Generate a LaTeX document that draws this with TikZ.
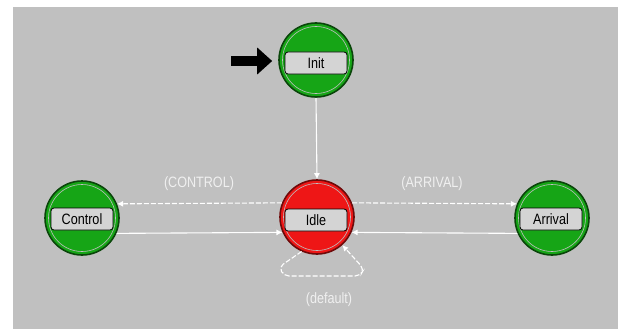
\documentclass[tikz,border=0pt]{standalone}
\usepackage{fontspec}
\setmainfont{Liberation Sans}
\newfontfamily\dlgfont[FakeStretch=0.84]{Liberation Sans}
\usetikzlibrary{arrows.meta}
\definecolor{canvas}{RGB}{192,192,192}
\definecolor{stgreen}{RGB}{22,165,22}
\definecolor{stgreenedge}{RGB}{10,70,10}
\definecolor{stred}{RGB}{238,22,22}
\definecolor{strededge}{RGB}{110,10,10}
\definecolor{tagfill}{RGB}{212,212,212}
\tikzset{
  statecircle/.style={circle, minimum size=74pt, inner sep=0pt, line width=1.6pt,
    path picture={\draw[white!75!black, line width=0.6pt]
      (path picture bounding box.center) circle (33.5pt);}},
  greenstate/.style={statecircle, fill=stgreen, draw=stgreenedge},
  redstate/.style={statecircle, fill=stred, draw=strededge},
  tag/.style={draw=black, line width=0.8pt, fill=tagfill, rounded corners=3pt,
    minimum width=62pt, minimum height=22pt, inner sep=0pt,
    font=\dlgfont\fontsize{15}{16}\selectfont, text=black},
  trans/.style={draw=white, line width=1.1pt, -{Latex[length=6pt,width=6pt]}},
  transdash/.style={trans, dash pattern=on 5pt off 2pt},
  translabel/.style={text=white!94!black, font=\dlgfont\fontsize{15}{16}\selectfont, inner sep=0pt},
  initmark/.style={draw=black, line width=10pt, -{Triangle[length=15pt,width=26pt]}}
}
\begin{document}
\begin{tikzpicture}[x=1pt,y=-1pt]
\useasboundingbox (0,0) rectangle (618,329);
\fill[white] (0,0) rectangle (618,329);
\fill[canvas] (13,7) rectangle (618,329);

% states
\node[greenstate] (init) at (316,60) {};
\node[redstate] (idle) at (317,217) {};
\node[greenstate] (control) at (82,218) {};
\node[greenstate] (arrival) at (552,218) {};

% name tags
\node[tag] (init tag) at (316,63) {Init};
\node[tag] (idle tag) at (316,220) {Idle};
\node[tag] (control tag) at (82,219) {Control};
\node[tag] (arrival tag) at (551,219) {Arrival};

% initial-state marker
\coordinate (start) at (231,61);
\draw[initmark, shorten >=6pt] (start) -- (init.west |- start);

% transitions
\draw[trans] (init.south) -- (idle.north);
\draw[transdash] (idle.158) -- (control.22);
\draw[transdash] (idle.22) -- (arrival.158);
\draw[trans] (control.-24) -- (idle.204);
\draw[trans] (arrival.204) -- (idle.-24);
\draw[transdash, rounded corners=5pt] (idle.246) -- (279,267) -- (284,276)
  -- (360,276) -- (364,269) -- (idle.-48);

% transition labels
\node[translabel] (control cond) at (199,184) {(CONTROL)};
\node[translabel] (arrival cond) at (432,184) {(ARRIVAL)};
\node[translabel] (default cond) at (329,300) {(default)};
\end{tikzpicture}
\end{document}
